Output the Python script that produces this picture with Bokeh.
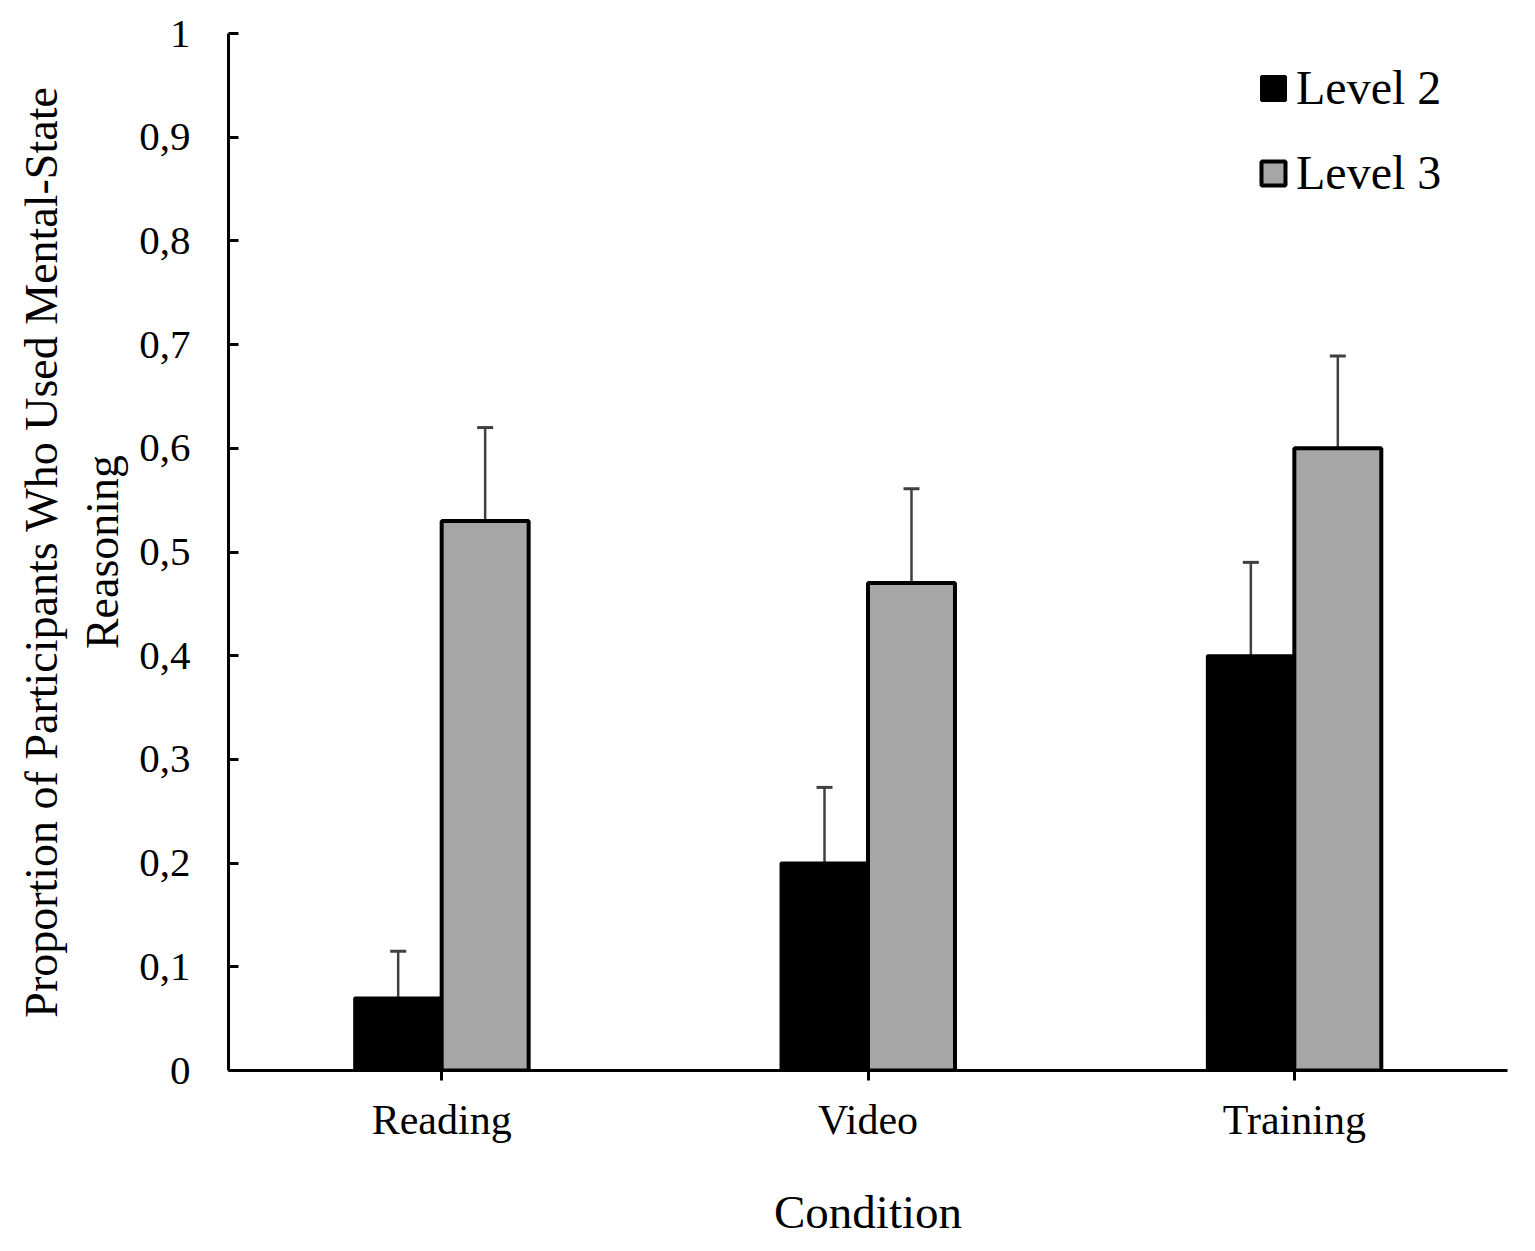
from bokeh.plotting import figure
from bokeh.models import (ColumnDataSource, FactorRange, Range1d, Legend, LegendItem,
                          Whisker, TeeHead, FixedTicker)
from bokeh.transform import dodge
from bokeh.embed import file_html
from bokeh.resources import INLINE

categories = ["Reading", "Video", "Training"]
level2 = [0.07, 0.20, 0.40]
level3 = [0.53, 0.47, 0.60]
level2_err = [0.045, 0.073, 0.090]
level3_err = [0.090, 0.091, 0.089]
y_ticks = [0, 0.1, 0.2, 0.3, 0.4, 0.5, 0.6, 0.7, 0.8, 0.9, 1.0]
y_tick_labels = ["0", "0,1", "0,2", "0,3", "0,4", "0,5", "0,6", "0,7", "0,8", "0,9", "1"]

FONT = "Liberation Serif"
BW = 0.204

src = ColumnDataSource(data=dict(
    cat=categories,
    l2=level2, l3=level3,
    l2_up=[v + e for v, e in zip(level2, level2_err)],
    l3_up=[v + e for v, e in zip(level3, level3_err)],
))

p = figure(x_range=FactorRange(*categories), y_range=Range1d(0, 1),
           width=1530, height=1245, output_backend="svg", toolbar_location=None,
           min_border_left=228, min_border_right=23, min_border_top=33, min_border_bottom=175)
p.x_range.range_padding = 0
p.outline_line_color = None
p.xgrid.visible = False
p.ygrid.visible = False

r2 = p.vbar(x=dodge("cat", -BW / 2, range=p.x_range), top="l2", width=BW, source=src,
            fill_color="black", line_color="black", line_width=3)
r3 = p.vbar(x=dodge("cat", BW / 2, range=p.x_range), top="l3", width=BW, source=src,
            fill_color="#a6a6a6", line_color="black", line_width=4)

for off, base_col, up_col in [(-BW / 2, "l2", "l2_up"), (BW / 2, "l3", "l3_up")]:
    w = Whisker(base=dodge("cat", off, range=p.x_range), lower=base_col, upper=up_col,
                source=src, line_color="#404040", line_width=2.5,
                upper_head=TeeHead(size=16, line_color="#404040", line_width=3),
                lower_head=None)
    p.add_layout(w)

# axes
p.yaxis.ticker = FixedTicker(ticks=y_ticks)
p.yaxis.major_label_overrides = {t: l for t, l in zip(y_ticks, y_tick_labels)}
p.yaxis.major_tick_in = 10
p.yaxis.major_tick_out = 0
p.yaxis.minor_tick_line_color = None
p.yaxis.axis_line_width = 3
p.yaxis.major_tick_line_width = 3
p.yaxis.major_label_standoff = 38
p.yaxis.major_label_text_font = FONT
p.yaxis.major_label_text_font_size = "41px"
p.yaxis.major_label_text_color = "black"
p.yaxis.axis_label = "Proportion of Participants Who Used Mental-State\nReasoning"
p.yaxis.axis_label_text_font = FONT
p.yaxis.axis_label_text_font_size = "46px"
p.yaxis.axis_label_text_font_style = "normal"
p.yaxis.axis_label_text_color = "black"
p.yaxis.axis_label_standoff = 8

p.xaxis.major_tick_in = 0
p.xaxis.major_tick_out = 10
p.xaxis.axis_line_width = 3
p.xaxis.major_tick_line_width = 3
p.xaxis.major_label_standoff = 16
p.xaxis.major_label_text_font = FONT
p.xaxis.major_label_text_font_size = "42px"
p.xaxis.major_label_text_color = "black"
p.xaxis.axis_label = "Condition"
p.xaxis.axis_label_text_font = FONT
p.xaxis.axis_label_text_font_size = "47px"
p.xaxis.axis_label_text_font_style = "normal"
p.xaxis.axis_label_text_color = "black"
p.xaxis.axis_label_standoff = 40

legend = Legend(items=[LegendItem(label="Level 2", renderers=[r2]),
                       LegendItem(label="Level 3", renderers=[r3])])
legend.border_line_color = None
legend.background_fill_alpha = 0
legend.label_text_font = FONT
legend.label_text_font_size = "48px"
legend.label_text_color = "black"
legend.glyph_width = 30
legend.glyph_height = 30
legend.label_standoff = 8
legend.spacing = 30
legend.margin = 0
legend.padding = 0
legend.location = (1030, 870)
p.add_layout(legend)

open("out.html", "w").write(file_html(p, INLINE))
